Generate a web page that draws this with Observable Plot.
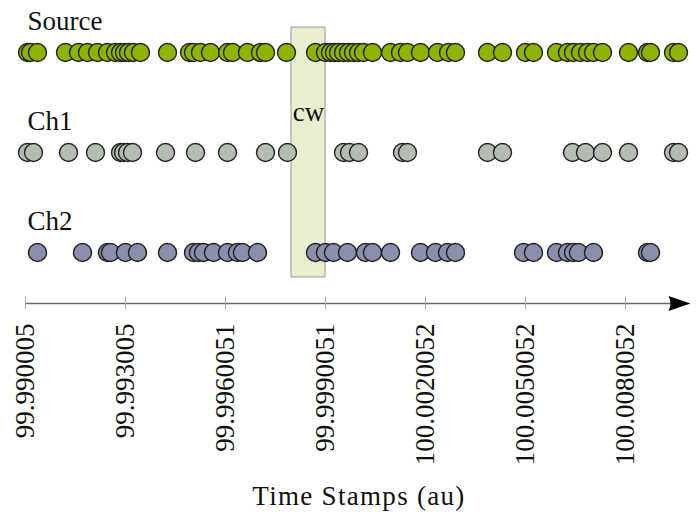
<!DOCTYPE html>
<html>
<head>
<meta charset="utf-8">
<script src="https://cdn.jsdelivr.net/npm/d3@7"></script>
<script src="https://cdn.jsdelivr.net/npm/@observablehq/plot@0.6"></script>
<style>
  html, body { margin: 0; padding: 0; background: #fff; }
  #chart svg { display: block; }
  #chart svg text { font-family: "Liberation Serif", "DejaVu Serif", serif !important; }
</style>
</head>
<body>
<div id="chart"></div>
<script>
// ---- data (time stamps, au) ----
const channels = ["Source", "Ch1", "Ch2"];
const channelColors = ["#8db500", "#b3beb0", "#8a8fab"];

const sourceTimes = [
  99.990065, 99.990155, 99.990365, 99.991205, 99.991595, 99.991865, 99.992165,
  99.992465, 99.992705, 99.992855, 99.992975, 99.993095, 99.993245, 99.993455,
  99.994265, 99.994925, 99.995045, 99.995255, 99.995555, 99.996065, 99.996215,
  99.996665, 99.997055, 99.997205, 99.997835, 99.998705, 99.999005, 99.999155,
  99.999275, 99.999395, 99.999545, 99.999695, 99.999845, 99.999995, 100.000145,
  100.000415, 100.000955, 100.001255, 100.001465, 100.001855, 100.002365,
  100.002695, 100.002905, 100.003865, 100.004315, 100.005005, 100.005245,
  100.005935, 100.006265, 100.006445, 100.006655, 100.006865, 100.007045,
  100.007315, 100.008095, 100.008665, 100.008755, 100.009445, 100.009595
];
const ch1Times = [
  99.990065, 99.990245, 99.991295, 99.992105, 99.992855, 99.992945, 99.993065,
  99.993215, 99.994205, 99.995105, 99.996065, 99.997205, 99.997865, 99.999545,
  99.999725, 99.999995, 100.001315, 100.001465, 100.003865, 100.004315,
  100.006415, 100.006805, 100.007315, 100.008095, 100.009445, 100.009595
];
const ch2Times = [
  99.990365, 99.991715, 99.992465, 99.992555, 99.993005, 99.993365, 99.994265,
  99.995045, 99.995195, 99.995345, 99.995645, 99.996065, 99.996365, 99.996515,
  99.996965, 99.998705, 99.999005, 99.999245, 99.999665, 100.000205,
  100.000415, 100.000955, 100.001855, 100.002305, 100.002665, 100.002905,
  100.004945, 100.005245, 100.005935, 100.006265, 100.006445, 100.006595,
  100.007045, 100.008665, 100.008755
];

// coincidence window
const cwStart = 99.997985;
const cwEnd = 99.999005;
const cwLabel = "cw";

// axis ticks
const tickValues = [99.990005, 99.993005, 99.9960051, 99.9990051, 100.0020052, 100.0050052, 100.0080052];
const tickLabels = ["99.990005", "99.993005", "99.9960051", "99.9990051", "100.0020052", "100.0050052", "100.0080052"];
const xLabel = "Time Stamps (au)";

// axis extent
const xMin = 99.990005;
const xMax = 100.010015;

// ---- build ----
const level = {Source: 2, Ch1: 1, Ch2: 0};
const colorOf = Object.fromEntries(channels.map((c, i) => [c, channelColors[i]]));
const series = {Source: sourceTimes, Ch1: ch1Times, Ch2: ch2Times};
const points = channels.flatMap(ch => series[ch].map(t => ({t, ch})));
const ticks = tickValues.map((v, i) => ({v, label: tickLabels[i]}));
const axisLevel = -0.51;
const font = "Liberation Serif";

// LaTeX-style filled arrow head (pointing right, centred on its midpoint)
const arrowHead = {
  draw(ctx) {
    ctx.moveTo(11, 0);
    ctx.lineTo(-11, -7.5);
    ctx.quadraticCurveTo(-7, 0, -11, 7.5);
    ctx.closePath();
  }
};
const pxPerUnit = 667 / (xMax - xMin);

const chart = Plot.plot({
  width: 699,
  height: 512,
  margin: 0,
  style: {fontFamily: font, background: "#fff"},
  x: {domain: [xMin, xMax], range: [25, 692], axis: null},
  y: {domain: [0, 2], range: [252, 52], axis: null},
  marks: [
    Plot.rect([cwLabel], {x1: cwStart, x2: cwEnd, y1: -0.25, y2: 2.25, fill: "#e7efcf", stroke: "#9c9c9c", strokeWidth: 1}),
    Plot.text([cwLabel], {x: (cwStart + cwEnd) / 2, y: 1.4, text: d => d, fontSize: 27, fontFamily: font, fill: "#111"}),
    Plot.dot(points, {x: "t", y: d => level[d.ch], r: 9, fill: d => colorOf[d.ch], stroke: "#222", strokeWidth: 1.4}),
    Plot.text(channels, {x: xMin, y: d => level[d] + 0.31, text: d => d, textAnchor: "start", dx: 2, fontSize: 27, fontFamily: font, fill: "#111"}),
    // axis
    Plot.ruleY([axisLevel], {x1: xMin, x2: xMax - 20 / pxPerUnit, stroke: "#6a6a6a", strokeWidth: 1.5}),
    Plot.ruleX(ticks, {x: "v", y1: axisLevel - 0.065, y2: axisLevel + 0.065, stroke: "#aaa", strokeWidth: 1}),
    Plot.dot([xMax], {x: d => d - 13 / pxPerUnit, y: axisLevel, symbol: arrowHead, r: 6, fill: "#000", stroke: "none"}),
    Plot.text(ticks, {x: "v", y: axisLevel, text: "label", rotate: -90, textAnchor: "end", lineAnchor: "middle", dy: 20, fontSize: 27, fontFamily: font, fill: "#111"}),
    Plot.text([xLabel], {x: (xMin + xMax) / 2, y: -2.44, text: d => d, fontSize: 27, fontFamily: font, fill: "#111"})
  ]
});
d3.select(chart).selectAll("text").filter(function () { return this.textContent === xLabel; })
  .style("letter-spacing", "1.3px");
document.getElementById("chart").append(chart);
</script>
</body>
</html>
